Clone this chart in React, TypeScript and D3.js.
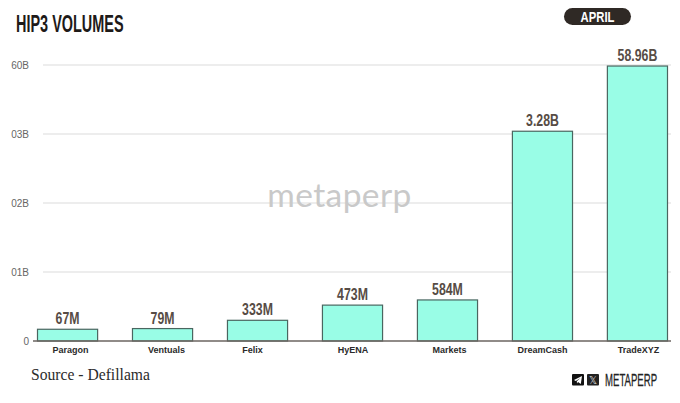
import React from "react";
import * as d3 from "d3";

const categories = ["Paragon", "Ventuals", "Felix", "HyENA", "Markets", "DreamCash", "TradeXYZ"];
const valueLabels = ["67M", "79M", "333M", "473M", "584M", "3.28B", "58.96B"];
// Bar heights in axis-step units: the printed axis is not linear in the printed values.
const barLevels = [0.17, 0.18, 0.3, 0.52, 0.595, 3.04, 3.985];
const tickLevels = [0, 1, 2, 3, 4];
const tickLabels = ["0", "01B", "02B", "03B", "60B"];

const W = 680;
const H = 403;
const INK = "#574c45";
const BAR = "#99fde6";
const BAR_EDGE = "#4a6660";
// The reference's category captions sit slightly off their bar centres.
const captionNudge = [3, 4, -5, 0.5, 2, 0, 1];

export default function App() {
  const x = d3.scaleBand<string>().domain(categories).range([37.5, 667.5]).paddingInner(0.367).paddingOuter(0);
  const y = d3.scaleLinear().domain([0, 4]).range([341, 65]);
  return (
    <svg width={W} height={H} viewBox={`0 0 ${W} ${H}`} style={{ position: "absolute", left: 0, top: 0, display: "block", background: "#fff" }}>
      <text transform="translate(16,32) scale(0.615,1)" fontFamily="'Liberation Sans'" fontWeight={700} fontSize={23.5} fill="#1e1a18">HIP3 VOLUMES</text>

      <rect x={564} y={8} width={67} height={17} rx={8.5} fill="#2f2925" />
      <text transform="translate(597.5,22) scale(0.78,1)" textAnchor="middle" fontFamily="'Liberation Sans'" fontWeight={700} fontSize={14.5} fill="#fff">APRIL</text>

      {tickLevels.filter((t) => t > 0).map((t) => (
        <line key={t} x1={43} x2={671} y1={y(t)} y2={y(t)} stroke="#dcdcdc" strokeWidth={1.2} />
      ))}
      {tickLevels.map((t, i) => (
        <text key={t} x={29} y={y(t) + 4} textAnchor="end" fontFamily="'Liberation Sans'" fontSize={10} fill="#666">{tickLabels[i]}</text>
      ))}

      <text x={339.5} y={207} textAnchor="middle" fontFamily="Lato, 'Noto Sans'" fontWeight={400} fontSize={33.5} fill="#c9c9c9" letterSpacing={0.4}>metaperp</text>

      {categories.map((c, i) => (
        <g key={c}>
          <rect x={x(c)!} y={y(barLevels[i])} width={x.bandwidth()} height={y(0) - y(barLevels[i])} fill={BAR} stroke={BAR_EDGE} strokeWidth={1.2} />
          <text transform={`translate(${x(c)! + x.bandwidth() / 2},${y(barLevels[i]) - 5}) scale(0.77,1)`} textAnchor="middle" fontFamily="'Liberation Sans'" fontWeight={700} fontSize={16} fill={INK}>{valueLabels[i]}</text>
          <text x={x(c)! + x.bandwidth() / 2 + captionNudge[i]} y={352.5} textAnchor="middle" fontFamily="'Liberation Sans'" fontWeight={700} fontSize={9} fill="#2a2a2a">{c}</text>
        </g>
      ))}
      <line x1={33} x2={671} y1={y(0)} y2={y(0)} stroke="#6b6561" strokeWidth={1.6} />

      <text transform="translate(31,380) scale(0.92,1)" fontFamily="'Liberation Serif'" fontSize={17} fill="#2b2b2b">Source - Defillama</text>

      <rect x={572} y={374} width={12} height={11.5} rx={1} fill="#111" />
      <path d="M574,380 L582,376 L580.8,384 L578,382 L577,383.5 L576.8,381.2 L580.5,378 L575.8,381 Z" fill="#fff" />
      <rect x={587} y={374} width={12} height={11.5} rx={1} fill="#222" />
      <text x={593} y={383.5} textAnchor="middle" fontFamily="'DejaVu Sans'" fontSize={10} fill="#ddd">𝕏</text>
      <text transform="translate(605,385.5) scale(0.6,1)" fontFamily="'Liberation Sans'" fontSize={16} fontWeight={400} fill="#222" stroke="#222" strokeWidth={0.25}>METAPERP</text>
    </svg>
  );
}
